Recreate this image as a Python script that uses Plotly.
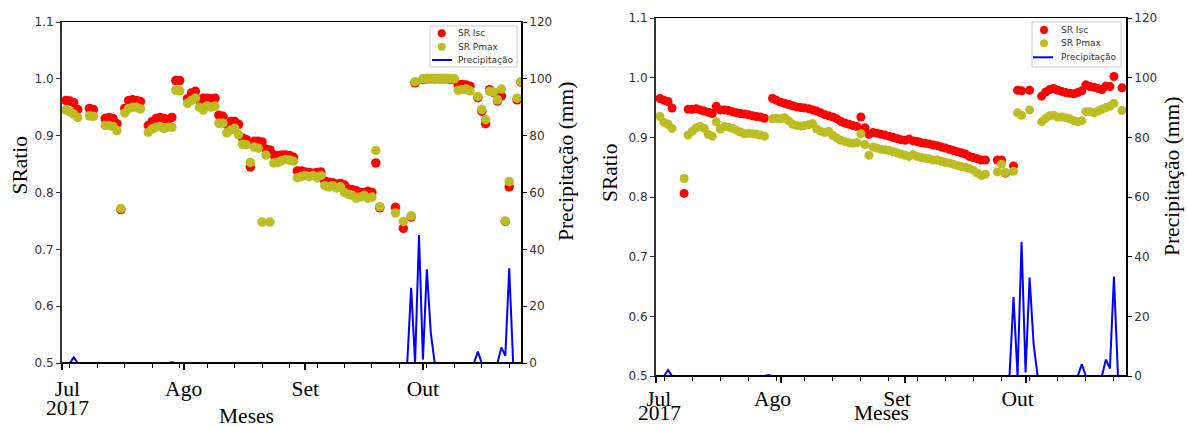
import plotly.graph_objects as go
import pandas as pd

W, H = 1187, 427

# ---------------- data ----------------
# left panel (a)
a_dates = ["07-02", "07-03", "07-04", "07-05", "07-08", "07-09", "07-12", "07-13", "07-14", "07-15",
           "07-16", "07-17", "07-18", "07-19", "07-20", "07-21", "07-23", "07-24", "07-25", "07-26",
           "07-27", "07-28", "07-29", "07-30", "07-31", "08-02", "08-03", "08-04", "08-05", "08-06",
           "08-07", "08-08", "08-09", "08-10", "08-11", "08-12", "08-13", "08-14", "08-15", "08-16",
           "08-17", "08-18", "08-19", "08-20", "08-21", "08-22", "08-23", "08-24", "08-25", "08-26",
           "08-27", "08-28", "08-29", "08-30", "08-31", "09-01", "09-02", "09-03", "09-04", "09-05",
           "09-06", "09-07", "09-08", "09-09", "09-10", "09-11", "09-12", "09-13", "09-14", "09-15",
           "09-16", "09-17", "09-18", "09-19", "09-20", "09-24", "09-26", "09-28", "09-29", "10-01",
           "10-02", "10-03", "10-04", "10-05", "10-06", "10-07", "10-08", "10-09", "10-10", "10-11",
           "10-12", "10-13", "10-15", "10-16", "10-17", "10-18", "10-19", "10-20", "10-21", "10-22",
           "10-23", "10-25", "10-26"]
a_isc = [0.962, 0.961, 0.958, 0.946, 0.948, 0.946, 0.930, 0.932, 0.930, 0.921,
         0.770, 0.948, 0.962, 0.963, 0.962, 0.960, 0.918, 0.925, 0.930, 0.932,
         0.930, 0.928, 0.932, 0.997, 0.997, 0.965, 0.975, 0.978, 0.962, 0.966,
         0.966, 0.965, 0.966, 0.936, 0.934, 0.920, 0.925, 0.925, 0.920, 0.896,
         0.893, 0.845, 0.890, 0.890, 0.889, 0.876, 0.875, 0.866, 0.865, 0.866,
         0.866, 0.865, 0.862, 0.838, 0.838, 0.836, 0.835, 0.834, 0.835, 0.836,
         0.820, 0.818, 0.817, 0.815, 0.816, 0.813, 0.806, 0.805, 0.803, 0.800,
         0.800, 0.802, 0.800, 0.852, 0.773, 0.774, 0.737, 0.757, 0.993, 0.999,
         1.000, 1.000, 1.000, 1.000, 1.000, 1.000, 0.999, 0.999, 0.989, 0.990,
         0.989, 0.987, 0.967, 0.943, 0.921, 0.981, 0.976, 0.961, 0.970, 0.749,
         0.810, 0.963, 0.994]
a_pmax = [0.945, 0.942, 0.938, 0.932, 0.935, 0.934, 0.918, 0.918, 0.916, 0.909,
          0.772, 0.940, 0.948, 0.950, 0.950, 0.947, 0.906, 0.912, 0.915, 0.916,
          0.913, 0.915, 0.915, 0.980, 0.979, 0.957, 0.962, 0.966, 0.950, 0.945,
          0.952, 0.950, 0.952, 0.922, 0.922, 0.905, 0.910, 0.913, 0.902, 0.885,
          0.884, 0.853, 0.880, 0.878, 0.748, 0.866, 0.748, 0.852, 0.853, 0.856,
          0.858, 0.857, 0.855, 0.826, 0.828, 0.830, 0.828, 0.830, 0.826, 0.830,
          0.812, 0.810, 0.812, 0.808, 0.810, 0.800, 0.797, 0.795, 0.790, 0.792,
          0.795, 0.790, 0.792, 0.874, 0.775, 0.764, 0.749, 0.759, 0.995, 1.000,
          1.001, 1.001, 1.001, 1.001, 1.001, 1.001, 1.000, 1.000, 0.980, 0.981,
          0.982, 0.979, 0.969, 0.946, 0.928, 0.978, 0.977, 0.963, 0.982, 0.750,
          0.819, 0.966, 0.995]

# right panel (b)
b_dates = ["07-02", "07-03", "07-04", "07-05", "07-08", "07-09", "07-10", "07-11", "07-12", "07-13",
           "07-14", "07-15", "07-16", "07-17", "07-18", "07-19", "07-20", "07-21", "07-22", "07-23",
           "07-24", "07-25", "07-26", "07-27", "07-28", "07-30", "07-31", "08-01", "08-02", "08-03",
           "08-04", "08-05", "08-06", "08-07", "08-08", "08-09", "08-10", "08-11", "08-12", "08-13",
           "08-14", "08-15", "08-16", "08-17", "08-18", "08-19", "08-20", "08-21", "08-22", "08-23",
           "08-24", "08-25", "08-26", "08-27", "08-28", "08-29", "08-30", "08-31", "09-01", "09-02",
           "09-03", "09-04", "09-05", "09-06", "09-07", "09-08", "09-09", "09-10", "09-11", "09-12",
           "09-13", "09-14", "09-15", "09-16", "09-17", "09-18", "09-19", "09-20", "09-21", "09-24",
           "09-25", "09-26", "09-28", "09-29", "09-30", "10-02", "10-05", "10-06", "10-07", "10-08",
           "10-09", "10-10", "10-11", "10-12", "10-13", "10-14", "10-15", "10-16", "10-17", "10-18",
           "10-19", "10-20", "10-21", "10-22", "10-23", "10-25"]
b_isc = [0.965, 0.962, 0.960, 0.949, 0.806, 0.947, 0.947, 0.948, 0.946, 0.944,
         0.942, 0.940, 0.952, 0.946, 0.946, 0.945, 0.943, 0.941, 0.940, 0.939,
         0.938, 0.936, 0.935, 0.934, 0.932, 0.965, 0.962, 0.959, 0.957, 0.955,
         0.953, 0.951, 0.950, 0.949, 0.948, 0.946, 0.944, 0.941, 0.938, 0.936,
         0.934, 0.931, 0.927, 0.924, 0.922, 0.920, 0.918, 0.934, 0.916, 0.905,
         0.908, 0.907, 0.905, 0.904, 0.902, 0.900, 0.898, 0.896, 0.895, 0.897,
         0.894, 0.893, 0.891, 0.890, 0.889, 0.887, 0.886, 0.884, 0.882, 0.880,
         0.878, 0.876, 0.874, 0.872, 0.868, 0.866, 0.864, 0.862, 0.862, 0.862,
         0.862, 0.840, 0.852, 0.979, 0.978, 0.979, 0.969, 0.976, 0.980, 0.982,
         0.979, 0.977, 0.975, 0.974, 0.973, 0.975, 0.978, 0.988, 0.985, 0.984,
         0.982, 0.980, 0.986, 0.985, 1.002, 0.983]
b_pmax = [0.935, 0.925, 0.922, 0.915, 0.831, 0.904, 0.910, 0.916, 0.918, 0.915,
          0.905, 0.902, 0.926, 0.914, 0.918, 0.917, 0.915, 0.912, 0.909, 0.906,
          0.907, 0.906, 0.905, 0.904, 0.902, 0.931, 0.932, 0.931, 0.933, 0.928,
          0.922, 0.920, 0.919, 0.920, 0.921, 0.923, 0.914, 0.910, 0.908, 0.910,
          0.903, 0.899, 0.895, 0.893, 0.891, 0.890, 0.891, 0.906, 0.888, 0.870,
          0.884, 0.882, 0.880, 0.879, 0.878, 0.876, 0.874, 0.872, 0.870, 0.868,
          0.871, 0.868, 0.866, 0.865, 0.864, 0.862, 0.862, 0.860, 0.858, 0.857,
          0.855, 0.853, 0.851, 0.850, 0.848, 0.845, 0.840, 0.836, 0.838, 0.842,
          0.855, 0.841, 0.843, 0.941, 0.937, 0.946, 0.926, 0.932, 0.936, 0.937,
          0.934, 0.934, 0.933, 0.931, 0.928, 0.926, 0.928, 0.943, 0.943, 0.941,
          0.944, 0.947, 0.950, 0.952, 0.957, 0.945]

# daily precipitation (mm), 2017-07-01 .. 2017-10-26 (same station for both panels)
precip_start, precip_end = "2017-07-01", "2017-10-26"
precip = [0, 0, 0, 2, 0, 0, 0, 0, 0, 0,
          0, 0, 0, 0, 0, 0, 0, 0, 0, 0,
          0, 0, 0, 0, 0, 0, 0, 0, 0.3, 0,
          0, 0, 0, 0, 0, 0, 0, 0, 0, 0,
          0, 0, 0, 0, 0, 0, 0, 0, 0, 0,
          0, 0, 0, 0, 0, 0, 0, 0, 0, 0,
          0, 0, 0, 0, 0, 0, 0, 0, 0, 0,
          0, 0, 0, 0, 0, 0, 0, 0, 0, 0,
          0, 0, 0, 0, 0, 0, 0, 0, 0, 26.5,
          0, 45, 1.2, 33, 10.7, 0, 0, 0, 0, 0,
          0, 0, 0, 0, 0, 0, 4, 0, 0, 0,
          0, 0, 5.5, 2.5, 33.3, 0, 0, 0]

month_ticks = ["2017-07-01", "2017-08-01", "2017-09-01", "2017-10-01"]
month_labels = ["Jul", "Ago", "Set", "Out"]
year_label = "2017"
sr_ticks = [0.5, 0.6, 0.7, 0.8, 0.9, 1.0, 1.1]
pr_ticks = [0, 20, 40, 60, 80, 100, 120]
series_names = ["SR Isc", "SR Pmax", "Precipitação"]

# ---------------- style ----------------
RED = "#ff0000"
OLIVE = "#bcbd22"
BLUE = "#0000ff"
SERIF = "Liberation Serif"
SANS = "DejaVu Sans"
NB = "\u00a0"

precip_dates = pd.date_range(precip_start, precip_end, freq="D")
a_x = ["2017-" + d for d in a_dates]
b_x = ["2017-" + d for d in b_dates]

fig = go.Figure()


def add_panel(xs, isc, pmax, xa, ya, ya2, msize):
    fig.add_trace(go.Scatter(x=xs, y=isc, mode="markers", name=series_names[0],
                             marker=dict(color=RED, size=msize, line=dict(width=0)),
                             xaxis=xa, yaxis=ya, showlegend=False))
    fig.add_trace(go.Scatter(x=xs, y=pmax, mode="markers", name=series_names[1],
                             marker=dict(color=OLIVE, size=msize, line=dict(width=0)),
                             xaxis=xa, yaxis=ya, showlegend=False))
    fig.add_trace(go.Scatter(x=precip_dates, y=precip, mode="lines", name=series_names[2],
                             line=dict(color=BLUE, width=2),
                             xaxis=xa, yaxis=ya2, showlegend=False))


add_panel(a_x, a_isc, a_pmax, "x", "y", "y2", 9.5)
add_panel(b_x, b_isc, b_pmax, "x2", "y3", "y4", 9)

xrange = [str(precip_dates[0].date()), str(precip_dates[-1].date())]


def xaxis_cfg(domain, anchor, shift, standoff, jul_pad):
    labels = [NB * jul_pad + month_labels[0]] + month_labels[1:]
    return dict(domain=domain, anchor=anchor, type="date", range=xrange, automargin=False,
                tickmode="array", tickvals=month_ticks, ticktext=labels,
                ticks="outside", ticklen=6, tickwidth=1.5, tickcolor="black",
                showline=True, linecolor="black", linewidth=1.2, mirror=True,
                showgrid=False, zeroline=False,
                tickfont=dict(family=SERIF, size=21.5, color="black"),
                ticklabelstandoff=standoff, ticklabelshift=shift,
                minor=dict(ticks="outside", ticklen=3.5, tickwidth=1.2, tickcolor="black",
                           tick0="2017-07-03", dtick=7 * 86400000, showgrid=False))


def yaxis_cfg(domain, anchor):
    return dict(domain=domain, anchor=anchor, range=[0.5, 1.1], tickmode="array",
                automargin=False,
                tickvals=sr_ticks, tickformat=".1f", ticks="outside", ticklen=4,
                tickwidth=1.3, tickcolor="#333", showline=True, linecolor="#333",
                linewidth=1.8, showgrid=False, zeroline=False,
                tickfont=dict(family=SANS, size=12, color="#333"))


def y2_cfg(overlay, anchor):
    return dict(overlaying=overlay, anchor=anchor, side="right", range=[0, 120],
                automargin=False,
                tickmode="array", tickvals=pr_ticks, ticks="outside", ticklen=4,
                tickwidth=1.3, tickcolor="black", showline=True, linecolor="black",
                linewidth=1.8, showgrid=False, zeroline=False,
                tickfont=dict(family=SANS, size=12, color="#333"))


fig.update_layout(
    width=W, height=H, autosize=False,
    margin=dict(l=0, r=0, t=0, b=0, autoexpand=False),
    paper_bgcolor="white", plot_bgcolor="white",
    showlegend=False,
    xaxis=xaxis_cfg([62 / W, 521 / W], "y", 0, 0, 2),
    yaxis=yaxis_cfg([1 - 363 / H, 1 - 22 / H], "x"),
    yaxis2=y2_cfg("y", "x"),
    xaxis2=xaxis_cfg([656 / W, 1126 / W], "y3", -8, -3, 4),
    yaxis3=yaxis_cfg([1 - 376 / H, 1 - 18 / H], "x2"),
    yaxis4=y2_cfg("y3", "x2"),
)


def P(x, y):
    return x / W, 1 - y / H


annotations = []
shapes = []

# bottom spines drawn over the plot edge (hides the zero-precipitation baseline like matplotlib)
for xr, yr in (("x domain", "y domain"), ("x2 domain", "y3 domain")):
    shapes.append(dict(type="line", xref=xr, yref=yr, x0=0, x1=1, y0=0, y1=0,
                       line=dict(color="black", width=2.2), layer="above"))


def text(x, y, s, size, family, angle=0, xanchor="center", color="black", yanchor="middle"):
    px, py = P(x, y)
    annotations.append(dict(x=px, y=py, xref="paper", yref="paper", text=s, showarrow=False,
                            textangle=angle, xanchor=xanchor, yanchor=yanchor,
                            font=dict(family=family, size=size, color=color)))


# year under the first month label
text(67, 408, year_label, 21.5, SERIF)
text(659, 427, year_label, 21.5, SERIF, yanchor="bottom")

# axis titles
text(19.5, 165, "SRatio", 21.5, SERIF, -90)
text(610, 172, "SRatio", 21.5, SERIF, -90)
text(566, 162, "Precipitação (mm)", 21.5, SERIF, -90)
text(1172, 177, "Precipitação (mm)", 21.5, SERIF, -90)
text(246, 416, "Meses", 21.5, SERIF)
text(881, 427, "Meses", 21.5, SERIF, yanchor="bottom")


# legends (drawn like matplotlib boxes)
def legend(x0, y0, x1, y1, mx, rows, lx0, lx1, tx):
    a, b = P(x0, y0)
    c, d = P(x1, y1)
    shapes.append(dict(type="rect", xref="paper", yref="paper", x0=a, y0=d, x1=c, y1=b,
                       line=dict(color="#cccccc", width=1), fillcolor="white", layer="above"))
    for color, ry in ((RED, rows[0]), (OLIVE, rows[1])):
        cx, cy = P(mx, ry)
        shapes.append(dict(type="circle", xref="paper", yref="paper", xsizemode="pixel",
                           ysizemode="pixel", xanchor=cx, yanchor=cy, x0=-4, x1=4, y0=-4, y1=4,
                           fillcolor=color, line=dict(width=0), layer="above"))
    p0 = P(lx0, rows[2])
    p1 = P(lx1, rows[2])
    shapes.append(dict(type="line", xref="paper", yref="paper", x0=p0[0], y0=p0[1],
                       x1=p1[0], y1=p1[1], line=dict(color=BLUE, width=2), layer="above"))
    for name, ry in zip(series_names, rows):
        text(tx, ry, name, 9, SANS, 0, "left", "#333")


legend(430, 26, 517, 67, 441.7, (33.3, 46.7, 60), 432, 452, 455.5)
legend(1032, 22, 1121, 67, 1044, (30, 43.3, 57.3), 1033, 1053, 1059)

fig.update_layout(annotations=annotations, shapes=shapes)
fig.write_html("out.html")
